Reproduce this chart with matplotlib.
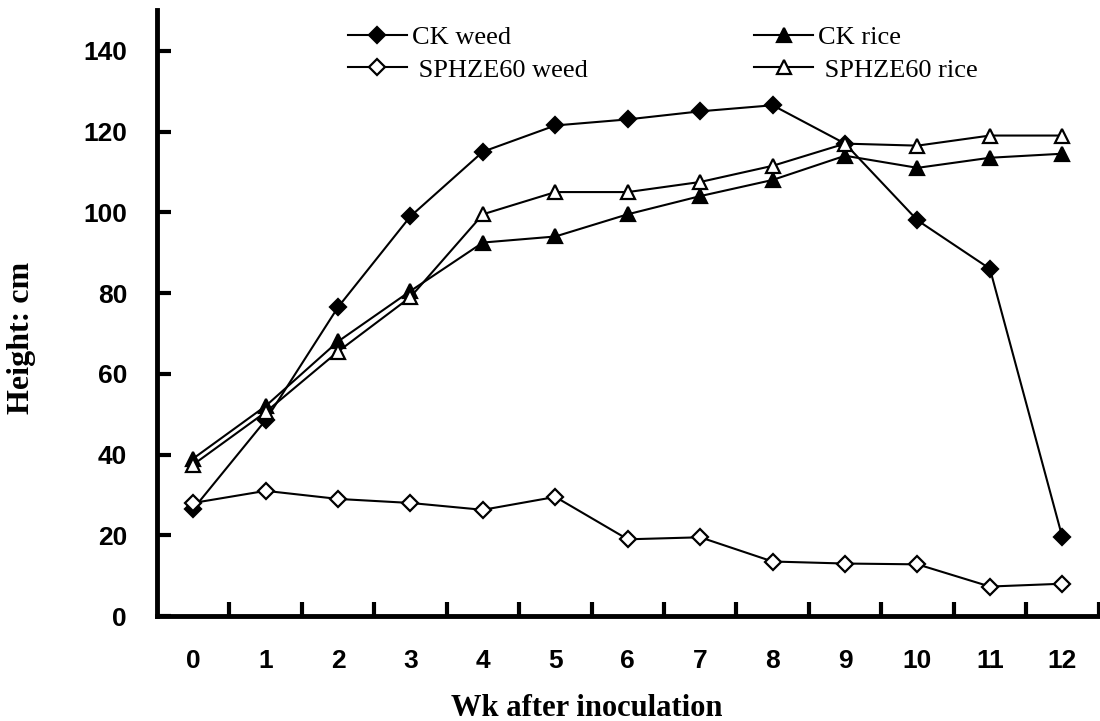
import matplotlib.pyplot as plt
from matplotlib.ticker import FixedLocator

weeks = list(range(13))
ck_weed = [26.5, 48.5, 76.5, 99, 115, 121.5, 123, 125, 126.5, 117, 98, 86, 19.5]
sph_weed = [28, 31, 29, 28, 26.3, 29.5, 19, 19.5, 13.5, 13, 12.8, 7.3, 8]
ck_rice = [39, 52, 68, 80.5, 92.5, 94, 99.5, 104, 108, 114, 111, 113.5, 114.5]
sph_rice = [37.5, 50.5, 65.5, 79, 99.5, 105, 105, 107.5, 111.5, 117, 116.5, 119, 119]

fig = plt.figure(figsize=(11, 7.21), dpi=100)
ax = fig.add_axes([0.1427, 0.1456, 0.856, 0.84])

kw = dict(color='black', lw=1.5, markeredgewidth=1.6, markeredgecolor='black')
ax.plot(weeks, ck_weed, marker='D', ms=8.5, markerfacecolor='black', label='CK weed', **kw)
ax.plot(weeks, sph_weed, marker='D', ms=8.5, markerfacecolor='white', label=' SPHZE60 weed', **kw)
ax.plot(weeks, ck_rice, marker='^', ms=10, markerfacecolor='black', label='CK rice', **kw)
ax.plot(weeks, sph_rice, marker='^', ms=10, markerfacecolor='white', label=' SPHZE60 rice', **kw)

ax.set_xlim(-0.5, 12.5)
ax.set_ylim(0, 150)
ax.set_yticks(range(0, 141, 20))
ax.set_xticks(weeks)
ax.xaxis.set_minor_locator(FixedLocator([w + 0.5 for w in weeks]))
ax.tick_params(axis='x', which='major', length=0, pad=24)
ax.tick_params(axis='x', which='minor', length=10, width=3, direction='in')
ax.tick_params(axis='y', which='major', length=10, width=3, direction='in', pad=21.5)

for lab in ax.get_xticklabels() + ax.get_yticklabels():
    lab.set_fontfamily('Liberation Sans')
    lab.set_fontweight('bold')
    lab.set_fontsize(19)

for s in ['top', 'right']:
    ax.spines[s].set_visible(False)
for s in ['left', 'bottom']:
    ax.spines[s].set_linewidth(3.5)

ax.set_xlabel('Wk after inoculation', fontfamily='Liberation Serif', fontweight='bold', fontsize=22, va='top')
ax.xaxis.set_label_coords(0.456, -0.128)
ax.set_ylabel('Height: cm', fontfamily='Liberation Serif', fontweight='bold', fontsize=23, va='center')
ax.yaxis.set_label_coords(-0.1435, 0.459)

leg = ax.legend(loc='upper left', bbox_to_anchor=(348 / 1100, 1 - 26 / 721),
                bbox_transform=fig.transFigure, ncol=2, frameon=False,
                prop={'family': 'Liberation Serif', 'size': 19}, handlelength=2.23,
                columnspacing=6.3, labelspacing=0.33, handletextpad=0.2,
                borderpad=0, borderaxespad=0)

fig.savefig('out.png', dpi=100)
